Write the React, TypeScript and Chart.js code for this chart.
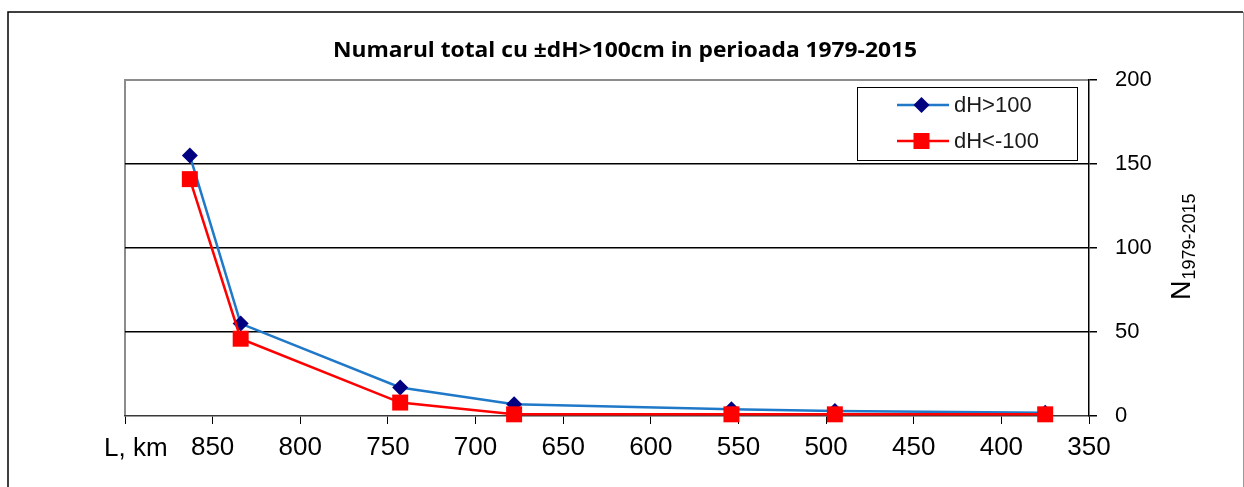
import React, { useEffect, useRef } from "react";
import { Chart, registerables } from "chart.js";

Chart.register(...registerables);

const TITLE = "Numarul total cu \u00b1dH>100cm in perioada 1979-2015";
const distanceKm = [863, 834, 743, 678, 554, 495, 375];
const countUp = [155, 55, 17, 7, 4, 3, 2];
const countDown = [141, 46, 8, 1, 1, 1, 1];
const seriesNames = ["dH>100", "dH<-100"];
const xTickStep = 50;
const yTicks = [0, 50, 100, 150, 200];

const BLUE = "#1f78c8";
const NAVY = "#000080";
const RED = "#ff0000";
const FONT = "'Liberation Sans', Arial, sans-serif";

const decorPlugin = {
  id: "decor",
  beforeDraw(chart: any) {
    const ctx = chart.ctx;
    const { left, right, top, bottom } = chart.chartArea;
    ctx.save();
    ctx.fillStyle = "#fff";
    ctx.fillRect(0, 0, chart.width, chart.height);
    // outer frame
    ctx.strokeStyle = "#000";
    ctx.lineWidth = 1.5;
    ctx.beginPath();
    ctx.moveTo(8, chart.height + 2);
    ctx.lineTo(8, 12);
    ctx.lineTo(1243, 12);
    ctx.stroke();
    ctx.strokeStyle = "#9a9a9a";
    ctx.lineWidth = 1;
    ctx.beginPath();
    ctx.moveTo(1243.5, 12);
    ctx.lineTo(1243.5, chart.height + 2);
    ctx.stroke();
    // plot area top/left gray border
    ctx.strokeStyle = "#8c8c8c";
    ctx.lineWidth = 2;
    ctx.beginPath();
    ctx.moveTo(left, bottom);
    ctx.lineTo(left, top);
    ctx.lineTo(right, top);
    ctx.stroke();
    ctx.restore();
  },
  afterDraw(chart: any) {
    const ctx = chart.ctx;
    ctx.save();
    // title
    ctx.font = `bold 22px 'Open Sans', ${FONT}`;
    ctx.fillStyle = "#000";
    ctx.textBaseline = "alphabetic";
    ctx.textAlign = "center";
    const w = ctx.measureText(TITLE).width;
    const targetW = 584;
    ctx.translate(625, 57);
    ctx.scale(targetW / w, 1);
    ctx.fillText(TITLE, 0, 0);
    ctx.restore();

    // x axis caption
    ctx.save();
    ctx.font = `26px ${FONT}`;
    ctx.fillStyle = "#000";
    ctx.textAlign = "left";
    ctx.textBaseline = "alphabetic";
    ctx.fillText("L, km", 104, 456);
    ctx.restore();

    // y axis title (rotated)
    ctx.save();
    ctx.translate(1190, 300);
    ctx.rotate(-Math.PI / 2);
    ctx.fillStyle = "#000";
    ctx.textAlign = "left";
    ctx.textBaseline = "alphabetic";
    ctx.font = `27px ${FONT}`;
    ctx.fillText("N", 0, 0);
    const nw = ctx.measureText("N").width;
    ctx.font = `18px ${FONT}`;
    ctx.fillText("1979-2015", nw + 1, 5);
    ctx.restore();

    // legend
    ctx.save();
    ctx.strokeStyle = "#000";
    ctx.lineWidth = 1;
    ctx.fillStyle = "#fff";
    ctx.fillRect(857.5, 87.5, 220, 73);
    ctx.strokeRect(857.5, 87.5, 220, 73);
    const rows = [
      { y: 105, line: BLUE, marker: NAVY, shape: "diamond", label: seriesNames[0] },
      { y: 141, line: RED, marker: RED, shape: "square", label: seriesNames[1] },
    ];
    rows.forEach((r) => {
      ctx.strokeStyle = r.line;
      ctx.lineWidth = 2.5;
      ctx.beginPath();
      ctx.moveTo(897, r.y);
      ctx.lineTo(949, r.y);
      ctx.stroke();
      ctx.fillStyle = r.marker;
      const cx = 921.5;
      if (r.shape === "diamond") {
        ctx.beginPath();
        ctx.moveTo(cx - 8, r.y);
        ctx.lineTo(cx, r.y - 8);
        ctx.lineTo(cx + 8, r.y);
        ctx.lineTo(cx, r.y + 8);
        ctx.closePath();
        ctx.fill();
      } else {
        ctx.fillRect(cx - 8, r.y - 8, 16, 16);
      }
      ctx.fillStyle = "#1a1a1a";
      ctx.font = `22px ${FONT}`;
      ctx.textAlign = "left";
      ctx.textBaseline = "middle";
      ctx.fillText(r.label, 954, r.y + 1);
    });
    ctx.restore();
  },
};

export default function App() {
  const ref = useRef<HTMLCanvasElement | null>(null);

  useEffect(() => {
    if (!ref.current) return;
    const toPoints = (vals: number[]) => distanceKm.map((x, i) => ({ x, y: vals[i] }));
    const chart = new Chart(ref.current, {
      type: "scatter",
      data: {
        datasets: [
          {
            label: seriesNames[0],
            data: toPoints(countUp),
            showLine: true,
            borderColor: BLUE,
            borderWidth: 2.5,
            backgroundColor: NAVY,
            pointBackgroundColor: NAVY,
            pointBorderWidth: 0,
            pointStyle: "rectRot",
            pointRadius: 8,
            clip: false,
            order: 1,
          } as any,
          {
            label: seriesNames[1],
            data: toPoints(countDown),
            showLine: true,
            borderColor: RED,
            borderWidth: 2.5,
            backgroundColor: RED,
            pointBackgroundColor: RED,
            pointBorderWidth: 0,
            pointStyle: "rect",
            pointRadius: 11.3,
            clip: false,
            order: 0,
          } as any,
        ],
      },
      options: {
        animation: false,
        responsive: false,
        maintainAspectRatio: false,
        layout: { padding: { left: 125, top: 80, right: 0, bottom: 0 } },
        plugins: {
          legend: { display: false },
          title: { display: false },
          tooltip: { enabled: false },
        },
        scales: {
          x: {
            type: "linear",
            position: "bottom",
            reverse: true,
            min: 350,
            max: 900,
            afterFit: (s: any) => {
              s.height = 71;
            },
            ticks: {
              stepSize: xTickStep,
              color: "#000",
              font: { family: FONT, size: 26 },
              padding: 8,
              maxRotation: 0,
              autoSkip: false,
              callback: (v: any) => (v === 900 ? "" : String(v)),
            },
            grid: {
              drawOnChartArea: false,
              drawTicks: true,
              tickLength: 8,
              tickColor: "#000",
              color: "#000",
            },
            border: { display: true, color: "#3a3a3a", width: 1.5 },
          },
          y: {
            type: "linear",
            position: "right",
            min: yTicks[0],
            max: yTicks[yTicks.length - 1],
            afterFit: (s: any) => {
              s.width = 155;
            },
            afterBuildTicks: (s: any) => {
              s.ticks = yTicks.map((v) => ({ value: v }));
            },
            ticks: {
              color: "#000",
              font: { family: FONT, size: 22 },
              padding: 18,
            },
            grid: {
              drawOnChartArea: true,
              drawTicks: true,
              tickLength: 8,
              tickColor: "#000",
              color: (c: any) =>
                c.tick && c.tick.value > 0 && c.tick.value < 200 ? "#000" : "rgba(0,0,0,0)",
              lineWidth: 1.5,
            },
            border: { display: true, color: "#000", width: 1.5 },
          },
        },
      },
      plugins: [decorPlugin],
    });
    return () => chart.destroy();
  }, []);

  return (
    <div style={{ position: "fixed", left: 0, top: 0, width: 1244, height: 487, background: "#fff" }}>
      <canvas ref={ref} width={1244} height={487} style={{ width: 1244, height: 487, display: "block" }} />
    </div>
  );
}
